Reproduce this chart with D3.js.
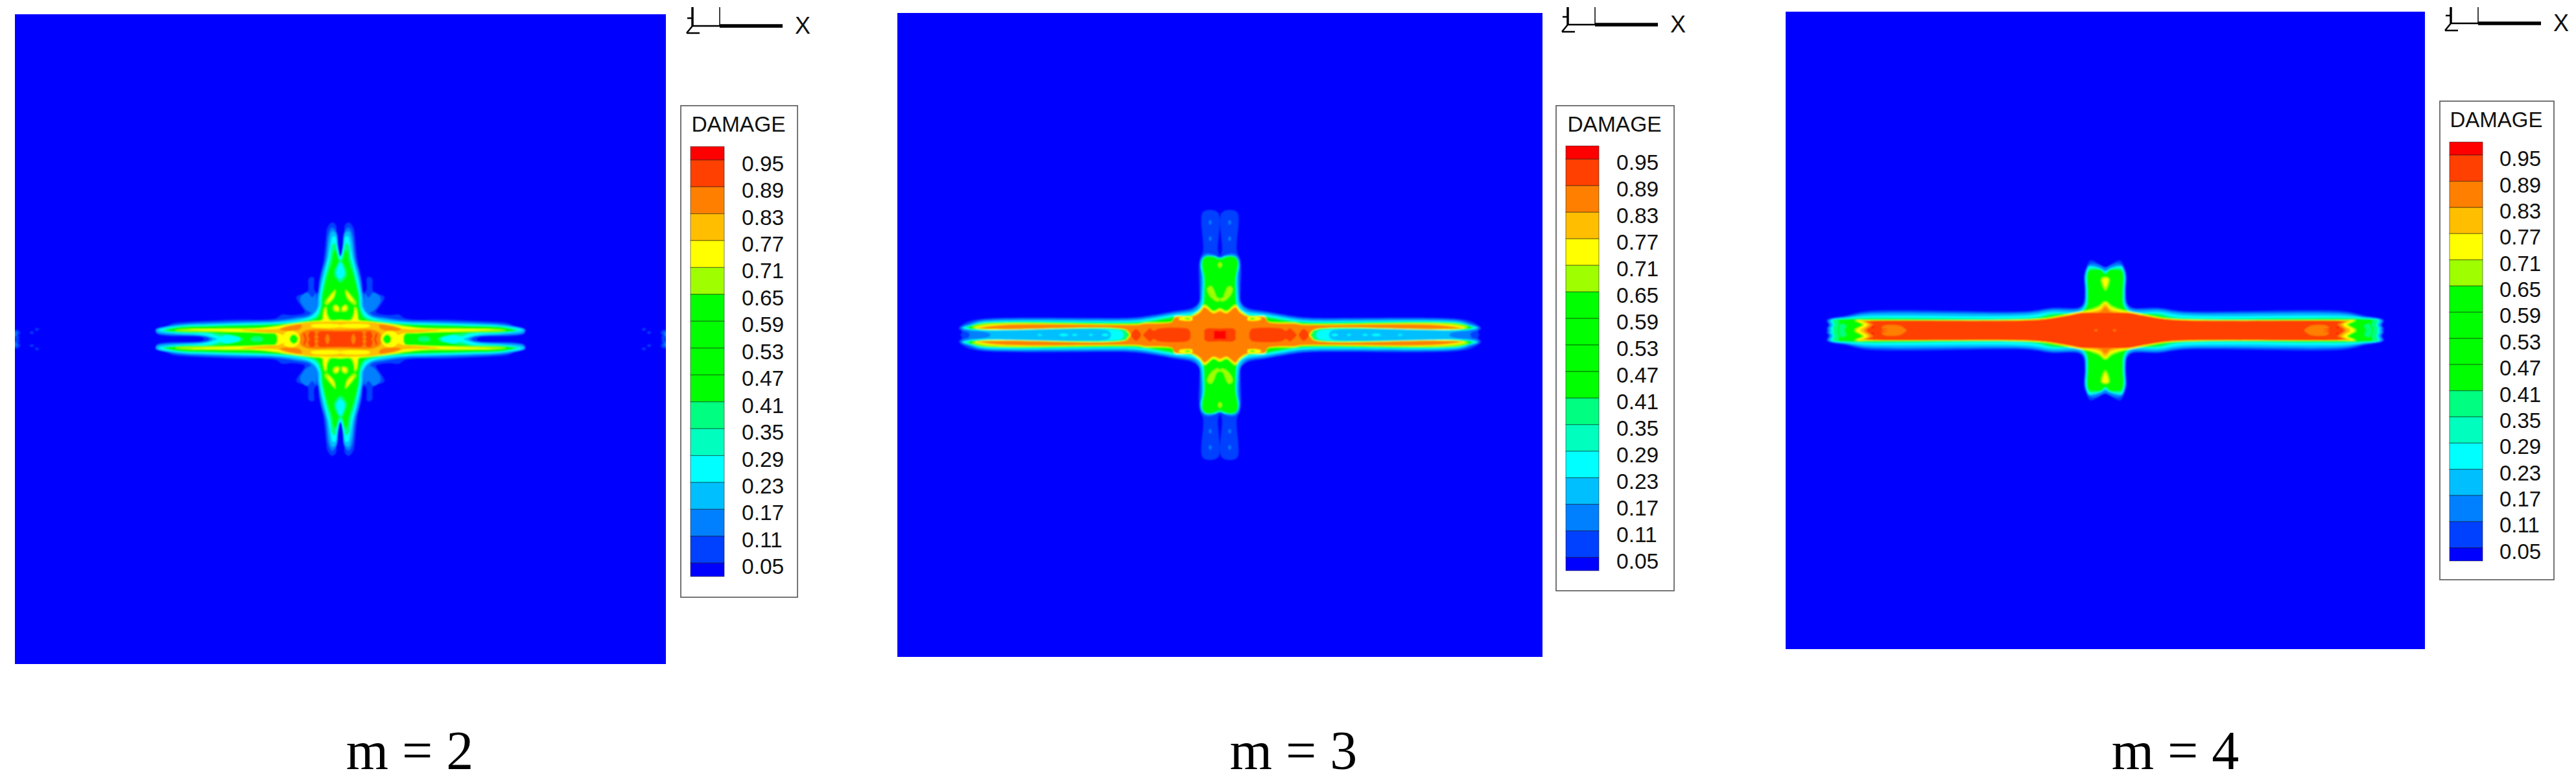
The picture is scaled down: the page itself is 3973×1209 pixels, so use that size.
<!DOCTYPE html>
<html><head><meta charset="utf-8">
<style>html,body{margin:0;padding:0;background:#fff}svg{display:block}</style>
<script src="https://cdn.jsdelivr.net/npm/d3@7/dist/d3.min.js"></script>
</head><body><svg id="c" width="3973" height="1209"></svg>
<script>
// Legend
const legendTitle = "DAMAGE";
const legendLabels = [0.95,0.89,0.83,0.77,0.71,0.65,0.59,0.53,0.47,0.41,0.35,0.29,0.23,0.17,0.11,0.05];
const legendEdges = [0.98,0.95,0.89,0.83,0.77,0.71,0.65,0.59,0.53,0.47,0.41,0.35,0.29,0.23,0.17,0.11,0.05,0.02];
const bandValues = [1,0.95,0.89,0.83,0.77,0.71,0.65,0.59,0.53,0.47,0.41,0.35,0.29,0.23,0.17,0.11,0.05];
const bandColors = ["#ff0000","#ff4000","#ff8000","#ffbf00","#ffff00","#9fff00","#00ff00","#00ff00","#00ff00","#00ff00","#00ff80","#00ffbf","#00ffff","#00bfff","#0080ff","#0040ff","#0000ff"];
const captions = ["m = 2","m = 3","m = 4"];

// Damage contours, one quadrant each (distance from crack centre);
// 'c' = outline running from the vertical axis to the horizontal axis, 'i' = island. Painted in order.
const fieldM2 = [
 [0.11,'c',[[0,123],[3,135],[6,160],[7,176],[13,180],[20,172],[22,160],[24,140],[27,116],[33,90],[35,71],[40,76],[41,95],[45,96],[49,93],[51,73],[68,65],[57,46],[55,41],[75,37],[90,38],[100,32],[167,30],[233,27],[257,25],[267,21],[285,15],[283,8],[270,5],[225,4],[215,3],[210,0]]],
 [0.17,'i',[[38,70],[43,64],[52,72],[62,62],[52,45],[42,42]]],
 [0.17,'c',[[0,125],[3,140],[6,165],[13,172],[19,160],[21,140],[24,120],[29,105],[32,88],[35,70],[40,50],[48,38],[70,33],[100,29],[150,27.5],[200,26],[250,23],[270,19],[285,15],[284,10],[270,7],[215,4.5],[205,3],[202,0]]],
 [0.23,'c',[[0,127],[4,145],[7,163],[13,166],[18,150],[21,125],[26,105],[30,88],[34,65],[36,48],[46,36],[70,31],[100,27],[150,25.5],[200,24],[250,21.5],[283,15],[282,11],[250,7.5],[220,6],[205,4],[197,0]]],
 [0.29,'c',[[0,128],[5,145],[8,158],[12,158],[16,140],[19,125],[24,105],[28,88],[32,65],[33,50],[42,37],[60,30],[100,25.5],[150,24],[200,22.5],[250,20],[280,14],[250,9],[220,7.5],[200,4],[190,0]]],
 [0.41,'c',[[0,122],[5,135],[8,148],[13,145],[16,125],[22,103],[26,85],[30,65],[31,50],[38,35],[60,28],[100,24],[150,22.5],[200,21],[250,19],[274,13.5],[250,10],[200,8.5],[185,4],[178,6],[168,6],[158,4],[155,0]]],
 [0.47,'c',[[0,118],[4,125],[7,138],[11,134],[14,118],[20,100],[24,85],[28,65],[29,50],[36,33],[60,26],[100,22.5],[150,21],[200,20],[250,18],[268,13.5],[250,11],[200,9.7],[170,6],[150,0]]],
 [0.41,'i',[[0,122],[7,110],[9,100],[5,92],[0,88]]],
 [0.29,'i',[[0,118],[5,108],[6,100],[3,95],[0,93]]],
 [0.41,'i',[[120,0],[122,2.5],[136,2.5],[138,0]]],
 [0.71,'c',[[0,30],[15,30],[20,38],[22,50],[25,48],[27,38],[28,30],[40,28],[67,25],[85,22.5],[100,20],[130,17],[170,16.5],[240,15.5],[255,13.5],[240,12],[170,11],[130,10],[115,9],[100,8],[95,0]]],
 [0.77,'c',[[0,29],[17,29],[21,36],[23,47],[25,42],[26,34],[28,29],[40,27],[67,24],[85,21.5],[100,19],[130,16],[170,15.5],[235,14.5],[170,12],[130,10.8],[115,10],[100,9],[97,0]]],
 [0.71,'i',[[2,43],[3,50],[8,53],[11,50],[10,44]]],
 [0.77,'i',[[3,45],[4,49],[8,51],[9,48],[8,45]]],
 [0.71,'i',[[8,76],[12,72],[24,56],[22,53],[10,64]]],
 [0.77,'i',[[10,73],[12,70],[20,58],[18,58],[11,66]]],
 [0.83,'c',[[0,27],[45,26],[67,23],[85,20],[97,16],[115,15],[130,15],[155,14.5],[130,11.5],[110,10],[96,9],[88,5],[86,0]]],
 [0.89,'i',[[60,22],[78,20],[93,15],[85,13],[62,16]]],
 [0.77,'i',[[0,21.5],[45,21.5],[45,19.5],[0,19.5]]],
 [0.77,'i',[[63,0],[66,8],[73,12],[85,10],[90,0]]],
 [0.47,'i',[[66,0],[68,5],[72,7],[76,5],[78,0]]],
 [0.89,'c',[[0,14.5],[52,14],[62,8],[62,0]]],
 [0.95,'c',[[0,12],[50,12],[55,11],[57,6],[55,0]]],
 [0.89,'i',[[17,0],[18,5],[20,8],[22,5],[23,0]]],
 [0.89,'i',[[33,12],[36,7],[34,3],[37,0],[40,3],[38,7],[40,12]]],
 [0.89,'i',[[48,12],[50,5],[48,0],[51,0],[53,5],[55,12]]],
 [0.11,'i',[[502,14],[496,13],[494,9],[497,6],[495,3],[497,0],[502,0]]],
 [0.17,'i',[[502,11],[499,10],[500,6],[502,4]]],
 [0.11,'i',[[473,10],[476,12],[479,10],[476,8]]],
 [0.11,'i',[[465,15],[468,17],[471,15],[468,13]]]
];
const fieldM3 = [
 [0.11,'c',[[0,122],[3,130],[3,189],[26,190],[26,130],[31,117],[33,100],[32,70],[33,50],[43,42],[70,37],[117,29],[140,27],[367,25],[390,20],[403,10],[398,5],[400,0]]],
 [0.17,'i',[[15,177],[17,173.5],[15,170],[13,173.5]]],
 [0.17,'i',[[15,152],[17,148.5],[15,145],[13,148.5]]],
 [0.17,'c',[[0,116],[4,120],[10,124],[22,125],[28,120],[31,112],[30,95],[30,70],[32,50],[42,40],[70,35],[117,27],[140,25],[367,23],[385,18],[400,11],[397,7],[388,4],[386,0]]],
 [0.23,'c',[[0,117],[5,121],[12,122],[22,122],[28,117],[30,108],[28,95],[28,70],[31,48],[40,38],[70,33],[117,25],[140,23],[367,21],[385,16],[398,11],[385,7],[365,5],[355,2],[354,0]]],
 [0.29,'c',[[0,118],[7,121],[22,121],[27,115],[29,105],[26,90],[26,70],[29,46],[38,36],[70,31],[117,23],[140,21],[367,19.5],[385,14.5],[396,11],[385,8],[365,6.5],[172,6.5],[169,3],[168,0]]],
 [0.29,'i',[[172,0],[177,2],[182,0]]],[0.29,'i',[[196,0],[199,1.5],[202,0]]],[0.29,'i',[[220,0],[224,1.5],[228,0]]],[0.29,'i',[[234,0],[241,2],[248,0]]],[0.29,'i',[[275,0],[278,1.5],[281,0]]],
 [0.41,'c',[[0,119],[8,120],[22,120],[26,113],[28,103],[25,90],[25,70],[27,46],[36,34],[70,29],[117,21],[140,19.5],[367,18.5],[385,14],[392,11.5],[385,9],[365,7.5],[155,7],[150,4],[149,0]]],
 [0.47,'c',[[0,116],[5,118],[10,121],[22,121],[27,116],[28,108],[26,100],[24,85],[24,70],[26,46],[34,33],[70,27],[117,19.5],[140,18.5],[367,18],[385,13.5],[388,11.5],[385,9.5],[365,8],[147,7.5],[144,4],[143,0]]],
 [0.71,'i',[[0,55],[5,58],[10,70],[14,75],[19,72],[18,65],[10,55],[3,52]]],
 [0.71,'i',[[0,112],[3,108],[0,104]]],
 [0.71,'c',[[0,41],[10,37],[24,47],[30,40],[42,31],[45,29],[70,28.5],[71,22],[117,19],[125,17],[367,16.8],[382,12],[367,8.3],[145,7.5],[142,3],[140,0]]],
 [0.77,'c',[[0,40],[10,36],[24,45],[30,38],[42,29.5],[70,27.5],[72,21],[117,18],[125,16.5],[350,16],[378,11],[350,8.7],[145,8],[141,3],[139,0]]],
 [0.83,'c',[[0,38],[10,34],[24,43],[30,36],[42,29],[70,27],[73,20.5],[117,17.5],[125,16],[340,15.6],[375,10.5],[340,9],[145,8.3],[140,3],[138,0]]],
 [0.89,'c',[[0,36],[10,33],[24,42],[30,35],[42,28],[70,26],[74,20],[117,17],[125,15.5],[325,15.2],[368,10.5],[325,9.3],[145,8.5],[139,3],[137,0]]],
 [0.77,'i',[[43,23],[43,27],[55,28],[63,26],[63,24],[50,22]]],
 [0.47,'i',[[46,25],[52,26],[54,25],[48,24]]],
 [0.95,'c',[[0,10],[20,10],[24,7],[24,0]]],
 [0.95,'i',[[46,0],[47,7],[50,9.5],[95,9.5],[102,6],[108,10],[114,5],[118,0]]],
 [0.95,'i',[[122,0],[129,9],[136,3],[137,0]]],
 [1,'c',[[0,6],[9,6],[9,0]]]
];
const fieldM4 = [
 [0.11,'c',[[0,98],[12,104],[23,108],[30,96],[33,84],[32,60],[34,42],[40,36],[83,35],[120,30],[367,30],[400,23],[427,18],[430,15],[427,8],[430,3],[429,0]]],
 [0.17,'c',[[0,97],[10,101],[22,103],[30,92],[32,82],[31,60],[33,41],[40,34],[83,33],[120,28],[367,27],[400,21],[425,17],[428,15],[425,8],[428,3],[427,0]]],
 [0.23,'c',[[0,92],[7,96],[25,100],[28,95],[31,82],[30,60],[32,40],[40,32],[83,31],[120,26],[367,25],[400,20],[423,17],[426,15],[423,8],[426,3],[425,0]]],
 [0.29,'c',[[0,91],[7,95],[25,98],[28,93],[30,82],[29,60],[31,38],[40,29],[83,28],[120,23],[367,22],[400,19],[420,17],[423,15],[420,8],[423,3],[422,0]]],
 [0.41,'c',[[0,89],[7,94],[24,96],[27,92],[29,82],[28,60],[30,37],[40,28],[83,26],[110,20],[367,19.5],[400,18],[418,16.5],[421,15],[418,8],[421,3],[419,0]]],
 [0.47,'c',[[0,87],[6,93],[23,93],[27,90],[28,80],[27,60],[29,36],[38,29],[60,26],[83,23],[105,18.5],[367,17.5],[400,17],[412,16],[411,10],[413,0]]],
 [0.41,'i',[[404,0],[400,7],[407,10],[410,0]]],
 [0.71,'i',[[0,82],[6,80],[4,68],[0,62]]],
 [0.77,'i',[[0,80],[4,79],[2,70],[0,66]]],
 [0.71,'c',[[0,45],[10,38],[22,33],[37,29.5],[50,27],[67,23.5],[100,18],[363,16],[387,15.5],[375,9],[387,1],[386,0]]],
 [0.77,'c',[[0,43],[8,36],[22,31],[37,28.5],[50,26],[67,22.5],[100,17.5],[363,15.5],[384,15],[372,9],[384,1],[383,0]]],
 [0.83,'c',[[0,41],[8,33],[22,29],[37,27.5],[50,25],[67,22],[100,17],[363,15],[378,14.5],[367,9],[378,1],[377,0]]],
 [0.89,'c',[[0,36],[8,29],[22,27.5],[37,27],[50,24.5],[67,21.5],[100,16.7],[363,14.7],[372,14],[363,9],[372,1],[371,0]]],
 [0.95,'c',[[0,27],[37,26.5],[50,24],[67,21],[100,16.5],[130,15],[363,14.5],[368,13.5],[358,9],[368,1],[367,0]]],
 [0.89,'i',[[307,0],[310,3],[317,7],[340,7.5],[345,4],[335,2],[345,0]]],
 [0.89,'i',[[12,0],[14,1.5],[17,0]]],
 [1,'i',[[357,5],[358.5,6.5],[360,5],[358.5,3.5]]]
];
const fields = [fieldM2, fieldM3, fieldM4];

// Layout of the three panels
const panels = [
 {x:23,  y:22, w:1004, h:1002, cap:632,  ax:1068, ay:40, leg:[1050,163,180,758], bar:[1065,1117,226,889], tx:1144, fs:33.5},
 {x:1384,y:20, w:995,  h:993,  cap:1995, ax:2418, ay:38, leg:[2400,163,182,748], bar:[2415,2466,225,880], tx:2493, fs:33.5},
 {x:2754,y:18, w:986,  h:983,  cap:3355, ax:3780, ay:36, leg:[3763,156,176,738], bar:[3778,3829,219,865], tx:3855, fs:33}
];

const svg = d3.select("#c");
const defs = svg.append("defs");
defs.append("filter").attr("id","soft").attr("x","-5%").attr("y","-5%").attr("width","110%").attr("height","110%")
  .append("feGaussianBlur").attr("stdDeviation",0.9);
const color = d3.scaleOrdinal(bandValues, bandColors);
const sans = "'Liberation Sans',Arial,sans-serif";

function fullOutline(p){
  const rev = p.slice().reverse();
  const all = [...p, ...rev.map(([x,y])=>[x,-y]), ...p.map(([x,y])=>[-x,-y]), ...rev.map(([x,y])=>[-x,y])];
  return all.filter((d,i)=>{const n=all[(i+1)%all.length];return !(d[0]===n[0]&&d[1]===n[1]);});
}
panels.forEach((P,i)=>{
  const g = svg.append("g");
  defs.append("clipPath").attr("id","clip"+i).append("rect").attr("x",P.x).attr("y",P.y).attr("width",P.w).attr("height",P.h);
  g.append("rect").attr("x",P.x).attr("y",P.y).attr("width",P.w).attr("height",P.h).attr("fill","#0000ff");
  const xS = d3.scaleLinear().domain([-P.w/2,P.w/2]).range([P.x,P.x+P.w]);
  const yS = d3.scaleLinear().domain([-P.h/2,P.h/2]).range([P.y+P.h,P.y]);
  const line = d3.line().x(d=>xS(d[0])).y(d=>yS(d[1])).curve(d3.curveCatmullRomClosed.alpha(0.5));
  const f = g.append("g").attr("clip-path",`url(#clip${i})`).append("g").attr("filter","url(#soft)");
  fields[i].forEach(([v,type,pts])=>{
    if(type==='c'){
      f.append("path").attr("d",line(fullOutline(pts))).attr("fill",color(v));
    } else {
      [[1,1],[1,-1],[-1,1],[-1,-1]].forEach(([sx,sy])=>{
        f.append("path").attr("d",line(pts.map(([x,y])=>[sx*x,sy*y]))).attr("fill",color(v)).attr("stroke",color(v)).attr("stroke-width",0.5);
      });
    }
  });
  // caption
  svg.append("text").attr("x",P.cap).attr("y",1186).attr("text-anchor","middle")
    .attr("font-family","'Liberation Serif','Times New Roman',serif").attr("font-size",84).attr("fill","#000").text(captions[i]);
  // legend
  const [lx,ly,lw,lh] = P.leg, [bx0,bx1,by0,by1] = P.bar;
  svg.append("rect").attr("x",lx).attr("y",ly).attr("width",lw).attr("height",lh).attr("fill","#fff").attr("stroke","#666").attr("stroke-width",1.8);
  svg.append("text").attr("x",lx+lw/2-1).attr("y",ly+40).attr("text-anchor","middle").attr("font-family",sans).attr("font-size",P.fs).attr("fill","#111").text(legendTitle);
  const yL = d3.scaleLinear().domain([0.98,0.02]).range([by0,by1]);
  bandValues.forEach((v,k)=>{
    svg.append("rect").attr("x",bx0).attr("width",bx1-bx0).attr("y",yL(legendEdges[k])).attr("height",yL(legendEdges[k+1])-yL(legendEdges[k]))
      .attr("fill",bandColors[k]).attr("stroke","#000").attr("stroke-opacity",0.4).attr("stroke-width",1.2);
  });
  legendLabels.forEach(v=>{
    svg.append("text").attr("x",P.tx).attr("y",yL(v)+17).attr("font-family",sans).attr("font-size",P.fs).attr("fill","#111").text(d3.format(".2f")(v));
  });
  // triad
  const a = svg.append("g").attr("stroke","#000").attr("fill","none");
  const seg=(x1,y1,x2,y2,w)=>a.append("line").attr("x1",x1).attr("y1",y1).attr("x2",x2).attr("y2",y2).attr("stroke-width",w);
  seg(P.ax,11,P.ax,P.ay,3.5); seg(P.ax,P.ay,P.ax+42,P.ay,2.5); seg(P.ax+42,P.ay,P.ax+139,P.ay,5.5);
  seg(P.ax+42,11,P.ax+42,P.ay,1.5); seg(P.ax-8,P.ay-12,P.ax,P.ay-12,2.5);
  seg(P.ax,P.ay,P.ax-9,P.ay+11,2.5); seg(P.ax-9,P.ay+11,P.ax+11,P.ay+11,2.5);
  svg.append("text").attr("x",P.ax+158).attr("y",P.ay+12).attr("font-family",sans).attr("font-size",36).attr("fill","#111").text("X");
});
</script></body></html>
